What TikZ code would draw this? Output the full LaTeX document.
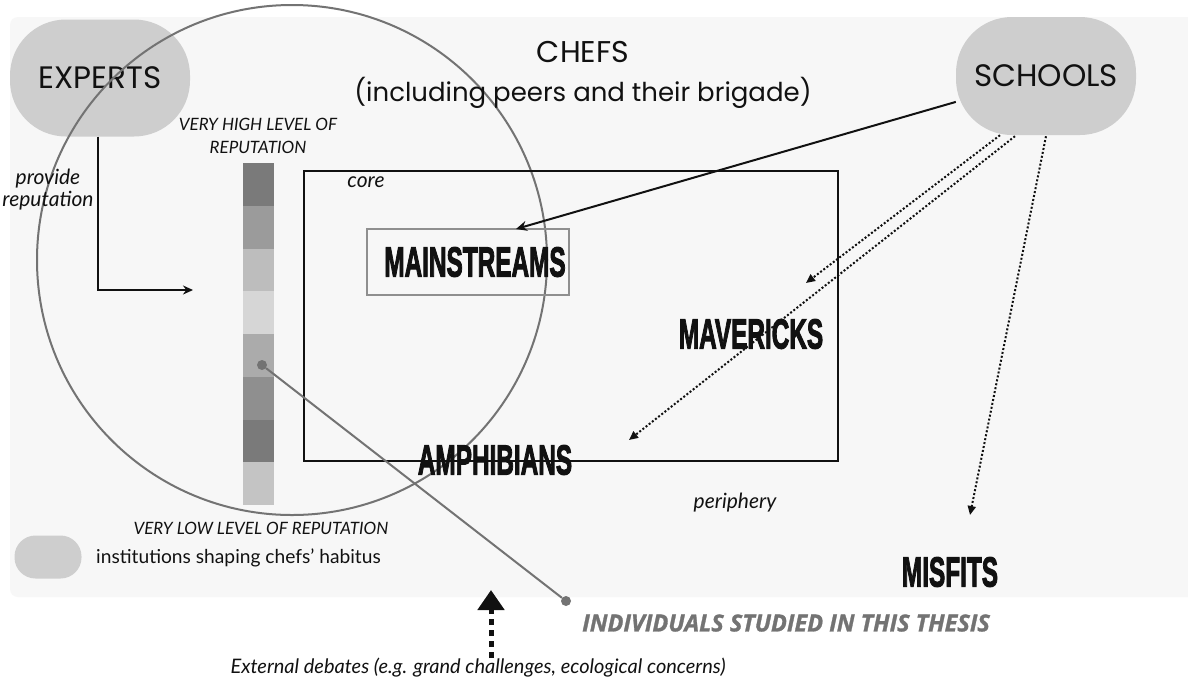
\documentclass[tikz,border=0pt]{standalone}
\usepackage{fontspec}
\usepackage{graphicx}
\setmainfont{Lato}
\newfontfamily\geo{Poppins}
\newfontfamily\heavy[BoldFeatures={FakeBold=3}]{Liberation Sans}
\newfontfamily\opensans[FakeBold=1.2]{Open Sans}
\usetikzlibrary{arrows.meta}
\definecolor{panel}{HTML}{F7F7F7}
\definecolor{instgray}{HTML}{CECECE}
\definecolor{ring}{HTML}{737373}
\definecolor{ink}{HTML}{111111}
\newcommand{\cond}[1]{\scalebox{0.58}[1]{\heavy\bfseries #1}}
\begin{document}
\begin{tikzpicture}[x=1pt,y=-1pt,
  instshape/.style={fill=instgray, inner sep=0pt},
  geotext/.style={text=ink, font=\geo\fontsize{31}{34}\selectfont},
  itlabel/.style={text=ink, font=\fontsize{#1}{#1}\selectfont\itshape, align=center, inner sep=0pt},
  condlabel/.style={text=ink, inner sep=0pt, font=\fontsize{42}{44}\selectfont},
  solidarrow/.style={draw=ink, line width=2pt, -{Stealth[length=11pt,width=10pt]}},
  dotarrow/.style={draw=ink, line width=2pt, dash pattern=on 2pt off 2pt, -{Triangle[length=9pt,width=8pt]}},
  graydot/.style={circle, fill=ring, inner sep=0pt, minimum size=10pt}
]
\useasboundingbox (0,0) rectangle (1188,686);
\fill[white] (0,0) rectangle (1188,686);
\fill[panel, rounded corners=8pt] (10,17) rectangle (1200,597);

% institutions
\node[instshape, minimum width=180pt, minimum height=117pt, rounded corners=56pt, geotext] (experts) at (100,78) {EXPERTS};
\node[instshape, minimum width=180pt, minimum height=118pt, rounded corners=56pt, geotext] (schools) at (1046,76) {SCHOOLS};

% big circle
\draw[ring, line width=2pt] (292,260) circle[radius=255pt];

% titles
\node[text=ink, font=\geo\fontsize{30}{34}\selectfont] (chefs) at (583,52) {CHEFS};
\node[text=ink, font=\geo\fontsize{26}{30}\selectfont] (chefsb) at (583,93) {(including peers and their brigade)};

% reputation bar
\foreach \c [count=\i from 0] in {7A7A7A,9B9B9B,BDBDBD,D6D6D6,ABABAB,8F8F8F,7A7A7A,C4C4C4}{
  \definecolor{segc}{HTML}{\c}
  \fill[segc] (243,{163+\i*42.75}) rectangle (274,{163+(\i+1)*42.75});
}
\node[itlabel=17] (high) at (258,136) {VERY HIGH LEVEL OF\\[6pt]REPUTATION};
\node[itlabel=17] (low) at (261,528) {VERY LOW LEVEL OF REPUTATION};
\node[itlabel=21] (provide) at (48,190) {provide\\[1pt]reputation};

% core rectangle
\node[draw=ink, line width=2pt, minimum width=534pt, minimum height=290pt, inner sep=0pt] (corebox) at (571,316) {};
\node[itlabel=21] (corelbl) at (366,182) {core};
\node[draw=ring!80, line width=2pt, minimum width=202pt, minimum height=66pt, inner sep=0pt, condlabel] (ms) at (468,262) {\hspace*{14pt}\cond{MAINSTREAMS}};
\node[condlabel] (mav) at (751,334) {\cond{MAVERICKS}};
\node[condlabel] (amph) at (495,460) {\cond{AMPHIBIANS}};
\node[condlabel] (misfits) at (950,572) {\cond{MISFITS}};
\node[itlabel=21] (periphery) at (735,503) {periphery};

% legend
\node[instshape, minimum width=67pt, minimum height=43pt, rounded corners=21pt] (legend) at (48,557) {};
\node[anchor=west, text=ink, inner sep=0pt, font=\fontsize{19.2}{21}\selectfont] (legendtxt) at (96,558) {institutions shaping chefs' habitus};

% experts arrow
\coordinate (barin) at (193,290);
\draw[solidarrow, line width=1.8pt, -{Stealth[length=10pt,width=9pt]}] ([xshift=-2pt]experts.south) |- (barin);

% schools arrows
\coordinate (mstop) at (516,229);
\coordinate (mavtip) at (806,283);
\coordinate (amphtip) at (629,440);
\coordinate (mistip) at (970,515);
\draw[solidarrow] (schools) -- (mstop);
\draw[dotarrow] ([xshift=-46pt]schools.south) -- (mavtip);
\draw[dotarrow] ([xshift=-31pt,yshift=-1pt]schools.south) -- (amphtip);
\draw[dotarrow] ([yshift=-1pt]schools.south) -- (mistip);

% individuals
\node[graydot] (d1) at (262,365) {};
\node[graydot] (d2) at (566,601) {};
\draw[ring, line width=2pt] (d1) -- (d2);
\node[anchor=west, inner sep=0pt, text=ring, font=\opensans\bfseries\itshape\fontsize{23.5}{25}\selectfont] (indiv) at (582,623) {INDIVIDUALS STUDIED IN THIS THESIS};

% external debates
\node[itlabel=20] (external) at (478,668) {External debates (e.g. grand challenges, ecological concerns)};
\coordinate (exttip) at (491,590);
\draw[ink, line width=5pt, dash pattern=on 6pt off 5pt, -{Triangle[length=20pt,width=26pt]}] (external.north -| exttip) -- (exttip);
\end{tikzpicture}
\end{document}
